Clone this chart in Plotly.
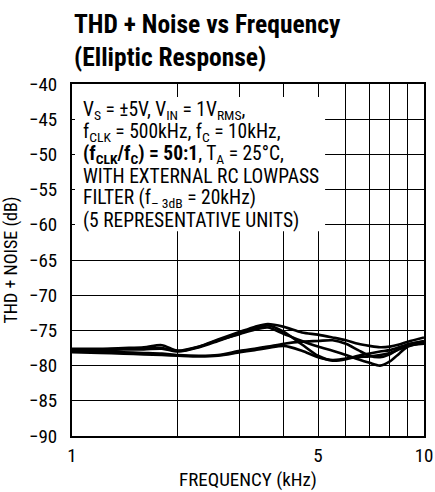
import plotly.graph_objects as go

freq = [1, 1.2, 1.4, 1.6, 1.8, 2, 2.3, 2.6, 3, 3.3, 3.6, 4, 4.5, 5, 5.5, 6, 6.5, 7, 7.5, 8, 8.5, 9, 10]
unit_a = [-77.6, -77.6, -77.5, -77.4, -77.1, -77.9, -77.3, -76.3, -75.2, -74.5, -74.1, -74.5, -75.3, -75.6, -76.0, -76.4, -76.9, -77.2, -77.4, -77.3, -77.0, -76.6, -76.0]
unit_b = [-77.8, -77.8, -77.7, -77.7, -77.6, -78.0, -77.4, -76.5, -75.4, -74.7, -74.3, -75.2, -77.0, -78.6, -79.3, -79.1, -78.6, -78.3, -78.0, -77.8, -77.4, -77.0, -76.5]
unit_c = [-77.7, -77.7, -77.6, -77.6, -77.5, -77.9, -77.3, -76.4, -75.5, -74.9, -74.6, -75.5, -76.5, -77.3, -77.9, -78.5, -79.1, -79.6, -80.0, -79.4, -78.3, -77.3, -76.7]
unit_d = [-77.9, -78.0, -78.1, -78.2, -78.3, -78.5, -78.6, -78.5, -77.9, -77.6, -77.3, -76.9, -76.6, -76.5, -76.4, -76.9, -77.8, -78.6, -78.8, -78.4, -77.6, -77.0, -76.6]
unit_e = [-78.1, -78.2, -78.3, -78.4, -78.5, -78.6, -78.7, -78.6, -78.1, -77.8, -77.5, -77.2, -77.9, -78.8, -79.2, -79.0, -78.8, -78.7, -78.5, -78.2, -77.7, -77.2, -76.9]
units = [unit_a, unit_b, unit_c, unit_d, unit_e]

x_tickvals = [1, 2, 3, 4, 5, 6, 7, 8, 9, 10]
x_ticktext = ["1", "", "", "", "5", "", "", "", "", "10"]
y_tickvals = [-40, -45, -50, -55, -60, -65, -70, -75, -80, -85, -90]

note_lines = [
    "V<sub>S</sub> = ±5V, V<sub>IN</sub> = 1V<sub>RMS</sub>,",
    "f<sub>CLK</sub> = 500kHz, f<sub>C</sub> = 10kHz,",
    "<b>(f<sub>CLK</sub>/f<sub>C</sub>) = 50:1</b>, T<sub>A</sub> = 25°C,",
    "WITH EXTERNAL RC LOWPASS",
    "FILTER (f<sub>– 3dB</sub> = 20kHz)",
    "(5 REPRESENTATIVE UNITS)",
]

FONT = "Liberation Sans Narrow, Roboto Condensed, Arial Narrow, sans-serif"

fig = go.Figure()
for u in units:
    fig.add_trace(go.Scatter(x=freq, y=u, mode="lines",
                             line=dict(color="black", width=2.6, shape="spline", smoothing=0.8),
                             showlegend=False, hoverinfo="skip"))

fig.update_layout(
    width=435, height=492,
    margin=dict(l=72, r=11, t=84, b=56),
    paper_bgcolor="white", plot_bgcolor="white",
    font=dict(family=FONT, color="black", size=19),
    xaxis=dict(type="log", range=[0, 1], tickvals=x_tickvals, ticktext=x_ticktext,
               showgrid=True, gridcolor="black", gridwidth=1, automargin=False,
               showline=True, linecolor="black", linewidth=2, mirror=True,
               ticks="", zeroline=False, tickfont=dict(size=19), ticklabelstandoff=1,
               title=dict(text="FREQUENCY (kHz)", font=dict(size=19), standoff=7)),
    yaxis=dict(range=[-90, -40], tickvals=y_tickvals,
               showgrid=True, gridcolor="black", gridwidth=1, automargin=False,
               showline=True, linecolor="black", linewidth=2, mirror=True,
               ticks="", zeroline=False, tickfont=dict(size=19), ticklabelstandoff=9,
               title=dict(text="THD + NOISE (dB)", font=dict(size=18), standoff=8)),
    shapes=[dict(type="rect", xref="paper", yref="paper", x0=0.0085, x1=0.719, y0=0.582, y1=0.963,
                 fillcolor="white", line=dict(width=0), layer="above")],
)

for i, line in enumerate(note_lines):
    cy = 111 + 21.8 * i
    fig.add_annotation(
        xref="paper", yref="paper", x=0.026, y=(436 - cy) / 352, xanchor="left", yanchor="middle",
        align="left", showarrow=False, font=dict(size=19.5, family=FONT), text=line,
    )

fig.add_annotation(
    xref="paper", yref="paper", x=0.0, y=1.0, yshift=77, xanchor="left", yanchor="top",
    align="left", showarrow=False, font=dict(size=25.5, family=FONT),
    text="<b>THD + Noise vs Frequency</b><br><b>(Elliptic Response)</b>",
)

fig.write_html("out.html")
